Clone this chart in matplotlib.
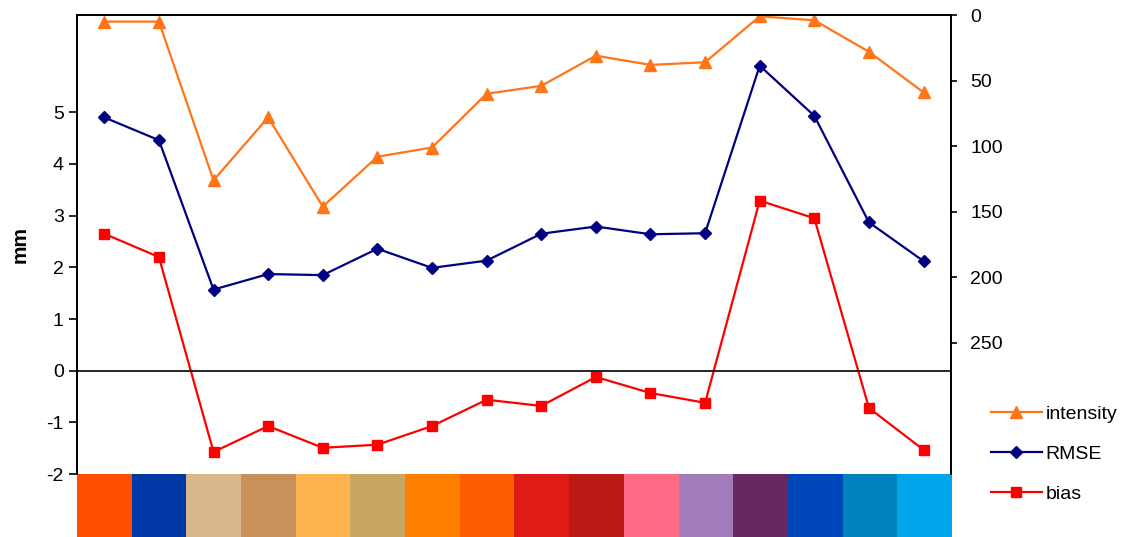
import matplotlib.pyplot as plt

plt.rcParams['font.family'] = ['Liberation Sans', 'DejaVu Sans']
plt.rcParams['axes.unicode_minus'] = False

rmse = [4.9, 4.46, 1.57, 1.87, 1.85, 2.36, 1.99, 2.13, 2.65, 2.79, 2.64, 2.66, 5.9, 4.93, 2.87, 2.12]
bias = [2.65, 2.2, -1.57, -1.07, -1.49, -1.43, -1.07, -0.56, -0.68, -0.12, -0.43, -0.62, 3.29, 2.95, -0.72, -1.53]
intensity = [5, 5, 126, 78, 146, 108, 101, 60, 54, 31, 38, 36, 1, 4, 28, 59]
swatches = ['#FF4E00', '#0039A6', '#D6B68A', '#C8915A', '#FFB34F', '#C9A662', '#FF8000', '#FF5E00',
            '#E01A14', '#B91A15', '#FF6B85', '#A27BBB', '#69275F', '#0047BB', '#0083BD', '#00A5EB']

x = list(range(len(rmse)))

fig = plt.figure(figsize=(11.32, 5.37), dpi=100)
ax = fig.add_axes([0.068, 0.117, 0.772, 0.855])
ax2 = ax.twinx()

l1, = ax2.plot(x, intensity, color='#FF7518', marker='^', markersize=9, lw=1.6, label='intensity')
l2, = ax.plot(x, rmse, color='#000080', marker='D', markersize=6, lw=1.6, label='RMSE')
l3, = ax.plot(x, bias, color='#FF0000', marker='s', markersize=7, lw=1.6, label='bias')
ax.axhline(0, color='black', lw=1.2)

ax.set_xlim(-0.5, len(x) - 0.5)
ax.set_ylim(-2, 6.88)
ax.set_yticks(range(-2, 6))
ax.set_xticks([])
ax.set_ylabel('mm', fontsize=15, fontweight='bold', labelpad=12)
ax.tick_params(axis='y', labelsize=14, direction='out', length=6, width=1.2)

ax2.set_ylim(350, 0)
ax2.set_yticks(range(0, 251, 50))
ax2.tick_params(axis='y', labelsize=14, direction='out', length=4, width=1.2, pad=10)

for a in (ax, ax2):
    a.spines['bottom'].set_visible(False)
    for s in ('left', 'right', 'top'):
        a.spines[s].set_linewidth(1.3)
ax.set_zorder(ax2.get_zorder() + 1)
ax.patch.set_visible(False)

# colour swatches under the plot
axs = fig.add_axes([0.068, 0.0, 0.773, 0.117])
axs.bar(x, 1, width=1, color=swatches)
axs.set_xlim(-0.5, len(x) - 0.5)
axs.set_ylim(0, 1)
axs.axis('off')

fig.legend(handles=[l1, l2, l3], loc='upper left', bbox_to_anchor=(0.86, 0.278),
           frameon=False, fontsize=14, handlelength=2.6, handletextpad=0.2, labelspacing=1.15)

fig.savefig('out.png', dpi=100)
